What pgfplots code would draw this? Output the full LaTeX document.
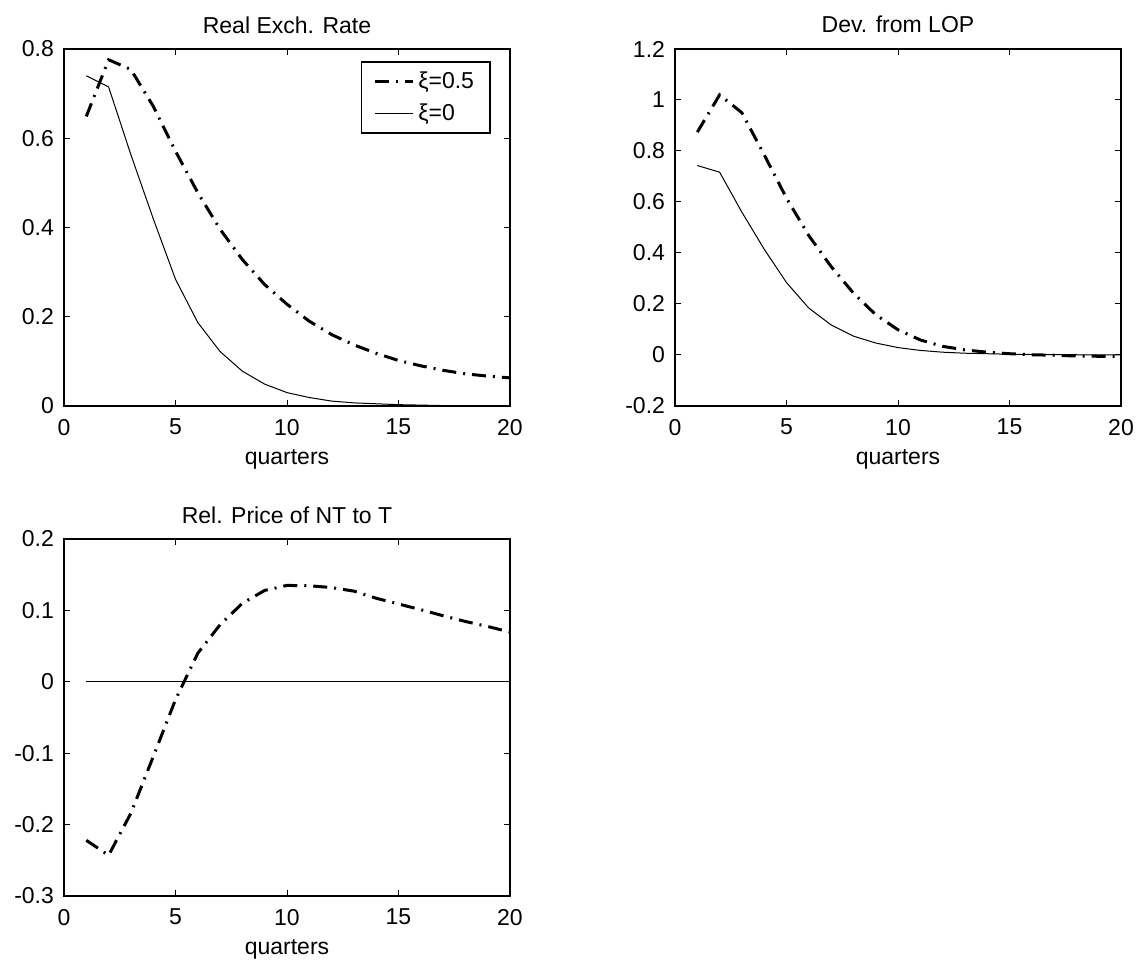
\documentclass[border=0pt]{standalone}
\usepackage{fontspec}
\setmainfont{Liberation Sans}
\usepackage{pgfplots}
\pgfplotsset{compat=1.18}

\pgfplotsset{
  irf/.style={
    scale only axis, width=223pt, height=178.5pt, anchor=south west,
    xmin=0, xmax=20, xtick={0,5,10,15,20},
    xticklabels={0,5,10,15,20},
    tick align=inside, major tick length=3pt,
    tick style={black, line width=0.5pt},
    axis line style={line width=0.8pt},
    font=\fontsize{11.5}{13}\selectfont,
    xlabel={quarters},
    xlabel style={at={(axis description cs:0.5,0)}, anchor=base, yshift=-29pt},
    title style={at={(axis description cs:0.5,1)}, anchor=base, yshift=2pt},
    xticklabel style={anchor=north, yshift=-3pt},
    yticklabel style={xshift=-1.5pt},
  },
  dd/.style={black, line width=1.5pt, dash pattern=on 7pt off 3.5pt on 1pt off 3.5pt},
  thin/.style={black, line width=0.5pt},
}

\begin{document}
\begin{tikzpicture}
\useasboundingbox (0,0) rectangle (570.5pt,482.5pt);

% Real exchange rate
\begin{axis}[irf, at={(32pt,279.5pt)}, title={Real Exch. Rate},
  ymin=0, ymax=0.8, ytick={0,0.2,0.4,0.6,0.8}, yticklabels={0,0.2,0.4,0.6,0.8},
  legend style={at={(0.957,0.966)}, anchor=north east, draw=black, line width=0.8pt,
    font=\fontsize{11.5}{13}\selectfont, inner xsep=6pt, inner ysep=3pt,
    legend cell align=left, row sep=2pt},
  legend image code/.code={\draw[#1] (0pt,0pt) -- (19pt,0pt);}]
\addplot[dd] coordinates {(1,0.649)(2,0.776)(3,0.754)(4,0.672)(5,0.571)(6,0.478)(7,0.396)(8,0.328)(9,0.272)(10,0.228)
  (11,0.190)(12,0.160)(13,0.137)(14,0.118)(15,0.102)(16,0.090)(17,0.080)(18,0.072)(19,0.067)(20,0.063)};
\addplot[thin] coordinates {(1,0.740)(2,0.715)(3,0.563)(4,0.420)(5,0.284)(6,0.187)(7,0.122)(8,0.078)(9,0.049)(10,0.030)
  (11,0.019)(12,0.011)(13,0.007)(14,0.005)(15,0.003)(16,0.002)(17,0.001)(18,0.001)(19,0)(20,0)};
\legend{ξ=0.5,ξ=0}
\end{axis}

% Deviation from LOP
\begin{axis}[irf, at={(337.5pt,279.5pt)}, title={Dev. from LOP},
  ymin=-0.2, ymax=1.2, ytick={-0.2,0,0.2,0.4,0.6,0.8,1,1.2},
  yticklabels={-0.2,0,0.2,0.4,0.6,0.8,1,1.2}]
\addplot[dd] coordinates {(1,0.874)(2,1.020)(3,0.950)(4,0.785)(5,0.615)(6,0.468)(7,0.347)(8,0.243)(9,0.158)(10,0.099)
  (11,0.059)(12,0.034)(13,0.020)(14,0.011)(15,0.005)(16,0.001)(17,-0.001)(18,-0.004)(19,-0.005)(20,-0.005)};
\addplot[thin] coordinates {(1,0.743)(2,0.717)(3,0.560)(4,0.415)(5,0.284)(6,0.184)(7,0.118)(8,0.074)(9,0.047)(10,0.029)
  (11,0.018)(12,0.011)(13,0.007)(14,0.005)(15,0.003)(16,0.002)(17,0.001)(18,0.001)(19,0)(20,0)};
\end{axis}

% Relative price of non-tradables
\begin{axis}[irf, at={(32pt,34.5pt)}, title={Rel. Price of NT to T},
  ymin=-0.3, ymax=0.2, ytick={-0.3,-0.2,-0.1,0,0.1,0.2},
  yticklabels={-0.3,-0.2,-0.1,0,0.1,0.2}]
\addplot[dd] coordinates {(1,-0.222)(2,-0.243)(3,-0.184)(4,-0.105)(5,-0.025)(6,0.040)(7,0.080)(8,0.110)(9,0.128)(10,0.135)
  (11,0.1345)(12,0.132)(13,0.127)(14,0.117)(15,0.109)(16,0.101)(17,0.0925)(18,0.0845)(19,0.0775)(20,0.0696)};
\addplot[thin] coordinates {(1,0)(2,0)(3,0)(4,0)(5,0)(6,0)(7,0)(8,0)(9,0)(10,0)
  (11,0)(12,0)(13,0)(14,0)(15,0)(16,0)(17,0)(18,0)(19,0)(20,0)};
\end{axis}
\end{tikzpicture}
\end{document}
